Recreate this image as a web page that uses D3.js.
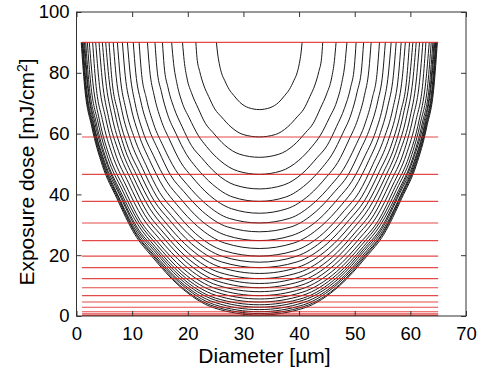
<!DOCTYPE html>
<html>
<head>
<meta charset="utf-8">
<script src="https://cdn.jsdelivr.net/npm/d3@7"></script>
<style>
  body { margin: 0; background: #fff; }
  svg { display: block; }
  text { font-family: "Liberation Sans", Arial, Helvetica, sans-serif; fill: #000; }
</style>
</head>
<body>
<div id="chart"></div>
<script>
// axis ticks
const xTicks = [0, 10, 20, 30, 40, 50, 60, 70];
const yTicks = [0, 20, 40, 60, 80, 100];

// centre of the symmetric curves (diameter axis)
const centreDiameter = 32.85;

// red horizontal dose levels, drawn from 1 to 65 um
const redLineDose = [90, 58.9, 46.6, 37.7, 30.6, 24.8, 19.7, 15.9, 12.3, 9.3, 6.7, 4.6, 2.9, 1.4, 0.7, 0.2];
const redLineSpan = [1, 65];

// black curves: half width from the centre [um] and matching dose
const curveHalfWidth = [
  [0, 1.9, 3.5, 4.6, 5.4, 6.2, 6.8, 7.2, 7.5, 7.7],
  [0, 2.9, 5.1, 6.8, 8.0, 9.1, 10.0, 10.7, 11.2, 11.4],
  [0, 3.5, 6.2, 8.3, 9.7, 11.0, 12.1, 13.0, 13.5, 13.8],
  [0, 3.9, 7.1, 9.5, 11.0, 12.6, 13.9, 14.8, 15.4, 15.75],
  [0, 4.4, 7.8, 10.4, 12.2, 13.9, 15.3, 16.4, 17.1, 17.4],
  [0, 4.7, 8.4, 11.3, 13.1, 15.0, 16.5, 17.6, 18.4, 18.75],
  [0, 5.0, 9.0, 12.1, 14.1, 16.1, 17.7, 18.9, 19.7, 20.1],
  [0, 5.4, 9.7, 13.0, 15.1, 17.3, 19.0, 20.3, 21.2, 21.6],
  [0, 5.7, 10.2, 13.6, 15.9, 18.1, 19.9, 21.3, 22.2, 22.65],
  [0, 5.9, 10.7, 14.2, 16.6, 19.0, 20.9, 22.3, 23.2, 23.7],
  [0, 6.2, 11.1, 14.8, 17.2, 19.7, 21.6, 23.1, 24.1, 24.6],
  [0, 6.4, 11.5, 15.3, 17.9, 20.4, 22.4, 24.0, 25.0, 25.5],
  [0, 6.6, 11.8, 15.8, 18.4, 21.0, 23.1, 24.7, 25.7, 26.25],
  [0, 6.8, 12.2, 16.2, 18.9, 21.6, 23.8, 25.4, 26.5, 27.0],
  [0, 6.9, 12.4, 16.6, 19.3, 22.1, 24.3, 25.9, 27.0, 27.6],
  [0, 7.1, 12.7, 16.9, 19.7, 22.6, 24.8, 26.5, 27.6, 28.2],
  [0, 7.2, 13.0, 17.3, 20.2, 23.0, 25.3, 27.1, 28.2, 28.8],
  [0, 7.4, 13.2, 17.6, 20.6, 23.5, 25.9, 27.6, 28.8, 29.4],
  [0, 7.5, 13.5, 18.0, 21.0, 24.0, 26.4, 28.2, 29.4, 29.95],
  [0, 7.6, 13.7, 18.3, 21.4, 24.4, 26.9, 28.7, 29.9, 30.55],
  [0, 7.7, 13.9, 18.5, 21.6, 24.7, 27.2, 29.0, 30.3, 30.9],
  [0, 7.8, 14.0, 18.7, 21.8, 25.0, 27.5, 29.3, 30.6, 31.2],
  [0, 7.9, 14.1, 18.8, 22.0, 25.1, 27.6, 29.5, 30.8, 31.4],
  [0, 7.9, 14.2, 18.9, 22.1, 25.2, 27.8, 29.7, 30.9, 31.55],
  [0, 7.9, 14.3, 19.0, 22.2, 25.4, 27.9, 29.8, 31.1, 31.7],
  [0, 8.0, 14.3, 19.1, 22.3, 25.4, 28.0, 29.9, 31.2, 31.8],
  [0, 8.0, 14.4, 19.1, 22.3, 25.5, 28.1, 30.0, 31.3, 31.9],
  [0, 8.0, 14.4, 19.2, 22.4, 25.6, 28.2, 30.1, 31.4, 32.0]
];
const curveDose = [
  [67.9, 68.5, 70.3, 72.6, 74.5, 77.4, 80.0, 83.1, 86.5, 90],
  [58.9, 59.7, 62.2, 65.5, 68.1, 72.2, 76.0, 80.4, 85.0, 90],
  [52.2, 53.2, 56.2, 60.3, 63.4, 68.4, 73.0, 78.3, 84.0, 90],
  [46.6, 47.7, 51.2, 55.8, 59.5, 65.2, 70.4, 76.5, 83.1, 90],
  [41.8, 43.1, 47.0, 52.1, 56.1, 62.4, 68.3, 75.1, 82.3, 90],
  [37.7, 39.1, 43.3, 48.8, 53.2, 60.1, 66.4, 73.8, 81.6, 90],
  [33.8, 35.3, 39.8, 45.8, 50.5, 57.9, 64.7, 72.6, 81.0, 90],
  [30.6, 32.1, 37.0, 43.3, 48.2, 56.0, 63.2, 71.6, 80.5, 90],
  [27.7, 29.3, 34.4, 41.0, 46.2, 54.4, 61.9, 70.7, 80.0, 90],
  [24.8, 26.5, 31.8, 38.7, 44.2, 52.7, 60.6, 69.8, 79.6, 90],
  [22.2, 24.0, 29.5, 36.6, 42.3, 51.2, 59.4, 69.0, 79.2, 90],
  [19.7, 21.5, 27.2, 34.7, 40.6, 49.8, 58.3, 68.2, 78.8, 90],
  [17.7, 19.6, 25.4, 33.1, 39.2, 48.6, 57.4, 67.6, 78.4, 90],
  [15.9, 17.8, 23.8, 31.7, 37.9, 47.6, 56.6, 67.0, 78.1, 90],
  [14.0, 16.0, 22.1, 30.2, 36.6, 46.5, 55.7, 66.4, 77.8, 90],
  [12.3, 14.3, 20.6, 28.8, 35.4, 45.6, 55.0, 65.9, 77.6, 90],
  [10.7, 12.8, 19.2, 27.6, 34.3, 44.6, 54.2, 65.4, 77.3, 90],
  [9.3, 11.4, 17.9, 26.5, 33.3, 43.8, 53.6, 65.0, 77.1, 90],
  [8.0, 10.1, 16.8, 25.5, 32.4, 43.1, 53.0, 64.6, 76.9, 90],
  [6.7, 8.9, 15.6, 24.4, 31.4, 42.4, 52.4, 64.2, 76.7, 90],
  [5.6, 7.8, 14.6, 23.6, 30.7, 41.7, 51.9, 63.8, 76.5, 90],
  [4.6, 6.8, 13.7, 22.8, 30.0, 41.2, 51.5, 63.5, 76.3, 90],
  [3.7, 5.9, 12.9, 22.1, 29.3, 40.6, 51.1, 63.2, 76.2, 90],
  [2.9, 5.2, 12.2, 21.5, 28.8, 40.2, 50.7, 63.0, 76.1, 90],
  [2.1, 4.4, 11.5, 20.8, 28.2, 39.7, 50.4, 62.8, 75.9, 90],
  [1.4, 3.7, 10.9, 20.3, 27.7, 39.3, 50.0, 62.5, 75.8, 90],
  [0.8, 3.1, 10.3, 19.8, 27.3, 39.0, 49.8, 62.4, 75.7, 90],
  [0.3, 2.6, 9.9, 19.4, 26.9, 38.7, 49.5, 62.2, 75.6, 90]
];

const width = 483, height = 373;

const svg = d3.select('#chart')
  .append('svg')
  .attr('width', width)
  .attr('height', height);

svg.append('rect').attr('width', width).attr('height', height).attr('fill', '#fff');

const x = d3.scaleLinear().domain([0, 70]).range([76.5, 466]);
const y = d3.scaleLinear().domain([0, 100]).range([316, 12]);

// black curves, mirrored around the centre
const line = d3.line()
  .x(d => x(d[0]))
  .y(d => y(d[1]))
  .curve(d3.curveMonotoneX);

curveHalfWidth.forEach((hw, i) => {
  const dose = curveDose[i];
  const pts = [];
  for (let j = hw.length - 1; j >= 0; j--) pts.push([centreDiameter - hw[j], dose[j]]);
  for (let j = 1; j < hw.length; j++) pts.push([centreDiameter + hw[j], dose[j]]);
  svg.append('path')
    .datum(pts)
    .attr('fill', 'none')
    .attr('stroke', '#1a1a1a')
    .attr('stroke-width', 1)
    .attr('d', line);
});

// red dose lines
svg.append('g')
  .selectAll('line')
  .data(redLineDose)
  .join('line')
  .attr('x1', x(redLineSpan[0]))
  .attr('x2', x(redLineSpan[1]))
  .attr('y1', d => y(d))
  .attr('y2', d => y(d))
  .attr('stroke', '#dd1c1c')
  .attr('stroke-opacity', 0.8)
  .attr('stroke-width', 1.1);

// axes, ticks pointing inwards
const tickLen = 5;
svg.append('g')
  .attr('transform', `translate(0,${y(0)})`)
  .call(d3.axisBottom(x).tickValues(xTicks).tickSize(-tickLen).tickSizeOuter(0).tickPadding(11));
svg.append('g')
  .attr('transform', `translate(${x(0)},0)`)
  .call(d3.axisLeft(y).tickValues(yTicks).tickSize(-tickLen).tickSizeOuter(0).tickPadding(7));
svg.append('g')
  .attr('transform', `translate(0,${y(100)})`)
  .call(d3.axisTop(x).tickValues(xTicks).tickSize(-tickLen).tickSizeOuter(0).tickFormat(''));
svg.append('g')
  .attr('transform', `translate(${x(70)},0)`)
  .call(d3.axisRight(y).tickValues(yTicks).tickSize(-tickLen).tickSizeOuter(0).tickFormat(''));

svg.selectAll('.domain').remove();
svg.selectAll('.tick line').attr('stroke', '#333');
svg.selectAll('.tick text')
  .style('font-size', '18.5px')
  .style('font-family', '"Liberation Sans", Arial, sans-serif')
  .attr('fill', '#000');

// frame
svg.append('rect')
  .attr('x', x(0))
  .attr('y', y(100))
  .attr('width', x(70) - x(0))
  .attr('height', y(0) - y(100))
  .attr('fill', 'none')
  .attr('stroke', '#333')
  .attr('stroke-width', 1);

// axis labels
svg.append('text')
  .attr('x', 264.5)
  .attr('y', 363)
  .attr('text-anchor', 'middle')
  .style('font-size', '21px')
  .text('Diameter [\u00b5m]');

const yl = svg.append('text')
  .attr('transform', 'translate(33.5,172) rotate(-90)')
  .attr('text-anchor', 'middle')
  .style('font-size', '21px');
yl.append('tspan').text('Exposure dose [mJ/cm');
yl.append('tspan').attr('dy', '-0.45em').style('font-size', '14px').text('2');
yl.append('tspan').attr('dy', '0.3em').text(']');
</script>
</body>
</html>
